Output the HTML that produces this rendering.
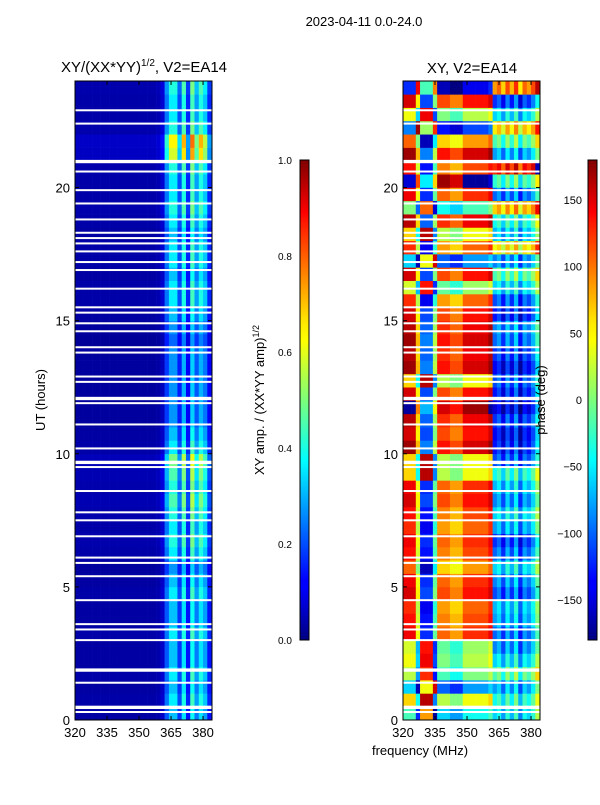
<!DOCTYPE html>
<html><head><meta charset="utf-8"><style>
body{margin:0;background:#fff;width:600px;height:800px;overflow:hidden;font-family:"Liberation Sans",sans-serif}
svg text{font-family:"Liberation Sans",sans-serif}
</style></head><body>
<svg id="c" width="600" height="800" xmlns="http://www.w3.org/2000/svg">
<defs>
<linearGradient id="jet" x1="0" y1="1" x2="0" y2="0">
<stop offset="0" stop-color="#00007f"/><stop offset="0.11" stop-color="#0000ff"/><stop offset="0.125" stop-color="#0000ff"/>
<stop offset="0.34" stop-color="#00dcff"/><stop offset="0.375" stop-color="#00ffff"/><stop offset="0.5" stop-color="#7cff7a"/>
<stop offset="0.625" stop-color="#ffff00"/><stop offset="0.66" stop-color="#ffea00"/><stop offset="0.875" stop-color="#ff1300"/><stop offset="0.89" stop-color="#ff0000"/><stop offset="1" stop-color="#7f0000"/>
</linearGradient>
</defs>
<text x="364" y="26" font-size="13" text-anchor="middle">2023-04-11 0.0-24.0</text>
<text x="144" y="72" font-size="15" text-anchor="middle">XY/(XX*YY)<tspan font-size="10" dy="-6">1/2</tspan><tspan dy="6">, V2=EA14</tspan></text>
<text x="472" y="73" font-size="15" text-anchor="middle">XY, V2=EA14</text>
<g id="left"></g>
<g id="right"></g>
<g id="axes"></g>
<text transform="translate(45,400) rotate(-90)" font-size="13" text-anchor="middle">UT (hours)</text>
<text x="420" y="755" font-size="13" text-anchor="middle">frequency (MHz)</text>
<rect x="300" y="160" width="9" height="480" fill="url(#jet)" stroke="#000" stroke-width="1"/>
<rect x="588" y="160" width="9" height="480" fill="url(#jet)" stroke="#000" stroke-width="1"/>
<text transform="translate(264,400) rotate(-90)" font-size="13" text-anchor="middle">XY amp. / (XX*YY amp)<tspan font-size="9" dy="-5">1/2</tspan></text>
<text transform="translate(545,400) rotate(-90)" font-size="13" text-anchor="middle">phase (deg)</text>
</svg>
<script>
const ns="http://www.w3.org/2000/svg";
const freqStart=320, freqStep=2;
const colProfile=[0.05,0.05,0.05,0.05,0.05,0.05,0.05,0.05,0.05,0.05,0.05,0.05,0.05,0.05,0.05,0.05,0.05,0.05,0.05,0.06,0.1,0.3,0.45,0.45,0.25,0.5,0.2,0.55,0.35,0.5,0.4,0.2];
const ampGain=[0.7,0.8,0.7,0.8,0.7,0.7,0.8,0.7,0.7,0.8,0.7,0.6,0.8,0.9,0.8,0.9,1.0,0.9,1.0,1.1,0.8,0.7,0.6,0.6,0.6,0.6,0.6,0.6,0.5,0.6,0.7,0.8,0.8,0.7,0.8,0.8,0.7,0.8,0.9,0.8,0.8,0.9,1.3,1.4,0.9,0.8,0.8,0.9];
const rowPhase=[-20,60,-60,20,40,30,140,130,120,150,140,100,130,140,120,130,150,140,60,60,170,150,160,-170,150,60,170,160,170,160,150,120,30,150,-60,120,60,160,0,140,-150,130,170,100,-90,40,150,-120];
const colOffset=[0,0,0,-100,-260,-260,-260,-150,-40,-40,-40,-60,-60,-60,-20,-20,-20,-20,-20,-20,0];
const hiRow=[-60,-40,-80,-20,-60,-90,-100,-80,-70,-110,-90,-60,-100,-120,-80,-60,-90,-70,-40,-110,-130,-140,-120,-150,-130,-110,-140,-120,-100,-90,-130,-110,-60,-20,-90,40,-70,-40,60,-100,-30,120,-80,-20,50,-60,-120,80];
const hiCol=[0,20,-20,30,-10,40,-30,20,0,30,80];
const blankHours=[22.9,22.4,21.0,20.95,20.6,19.9,19.4,18.8,18.3,18.1,17.9,17.6,17.2,16.9,16.2,15.5,15.3,14.9,14.6,14.0,13.8,12.9,12.7,12.1,12.05,11.9,11.1,10.2,9.7,9.65,9.5,8.6,7.8,7.5,6.9,6.1,5.9,5.4,4.5,3.6,3.4,3.0,1.9,1.85,1.4,0.5,0.45,0.3];
const xTicks=[320,335,350,365,380], yTicks=[0,5,10,15,20];
const ampTicks=[0.0,0.2,0.4,0.6,0.8,1.0], phTicks=[-150,-100,-50,0,50,100,150];
const Y0=81,Y1=720;
const yS=h=>Y1-(h/24)*(Y1-Y0);
const xS=(x0,f)=>x0+(f-320)*(137/64.2);
function jet(t){t=Math.max(0,Math.min(1,t));
 const r=Math.max(0,Math.min(1,1.5-Math.abs(4*t-3))),g=Math.max(0,Math.min(1,1.5-Math.abs(4*t-2))),b=Math.max(0,Math.min(1,1.5-Math.abs(4*t-1)));
 return `rgb(${Math.round(r*255)},${Math.round(g*255)},${Math.round(b*255)})`;}
function wrap(p){while(p>180)p-=360;while(p<-180)p+=360;return p;}
function panel(g,x0,valFn){
 for(let r=0;r<rowPhase.length;r++){
  for(let c=0;c<colProfile.length;c++){
   const f=freqStart+c*freqStep;
   const rc=document.createElementNS(ns,"rect");
   const xa=xS(x0,f),xb=xS(x0,f+freqStep);
   rc.setAttribute("x",xa);rc.setAttribute("width",Math.min(xb,x0+137)-xa+0.3);
   rc.setAttribute("y",yS((r+1)*0.5));rc.setAttribute("height",yS(r*0.5)-yS((r+1)*0.5)+0.3);
   rc.setAttribute("fill",valFn(r,c));
   
   
   g.appendChild(rc);
  }}
 blankHours.forEach(h=>{const l=document.createElementNS(ns,"rect");
  l.setAttribute("x",x0);l.setAttribute("width",137);l.setAttribute("y",yS(h)-1);l.setAttribute("height",2);l.setAttribute("fill","#fff");
  
  
  g.appendChild(l);});
}
panel(document.getElementById("left"),75,(r,c)=>jet(colProfile[c]*ampGain[r]));
panel(document.getElementById("right"),403,(r,c)=>{
 const p=c<colOffset.length?wrap(rowPhase[r]+colOffset[c]):wrap(hiRow[r]+hiCol[c-colOffset.length]);
 return jet((p+180)/360);});
const ax=document.getElementById("axes");
function el(tag,attrs,txt){const e=document.createElementNS(ns,tag);for(const k in attrs)e.setAttribute(k,attrs[k]);if(txt!==undefined)e.textContent=txt;ax.appendChild(e);return e;}
[75,403].forEach((x0,i)=>{
 const f=el("rect",{x:x0,y:Y0,width:137,height:Y1-Y0,fill:"none",stroke:"#000","stroke-width":1});
 
 
 xTicks.forEach(v=>{const x=xS(x0,v);
  el("line",{x1:x,x2:x,y1:Y1,y2:Y1-4,stroke:"#000"});el("line",{x1:x,x2:x,y1:Y0,y2:Y0+4,stroke:"#000"});
  const t=el("text",{x:x,y:Y1+17,"font-size":13,"text-anchor":"middle"},v);
  
  });
 yTicks.forEach(v=>{const y=yS(v);
  el("line",{x1:x0,x2:x0+4,y1:y,y2:y,stroke:"#000"});el("line",{x1:x0+137,x2:x0+133,y1:y,y2:y,stroke:"#000"});
  const t=el("text",{x:x0-5,y:y+5,"font-size":13,"text-anchor":"end"},v);
  
  });
});
ampTicks.forEach(v=>{const y=640-v*480;
 el("line",{x1:305,x2:309,y1:y,y2:y,stroke:"#000"});
 const t=el("text",{x:278,y:y+4,"font-size":10},v.toFixed(1));
 
 });
phTicks.forEach(v=>{const y=640-(v+180)/360*480;
 el("line",{x1:593,x2:597,y1:y,y2:y,stroke:"#000"});
 const t=el("text",{x:582,y:y+4,"font-size":11,"text-anchor":"end"},v<0?"\u2212"+(-v):v);
 
 });
</script>
</body></html>
